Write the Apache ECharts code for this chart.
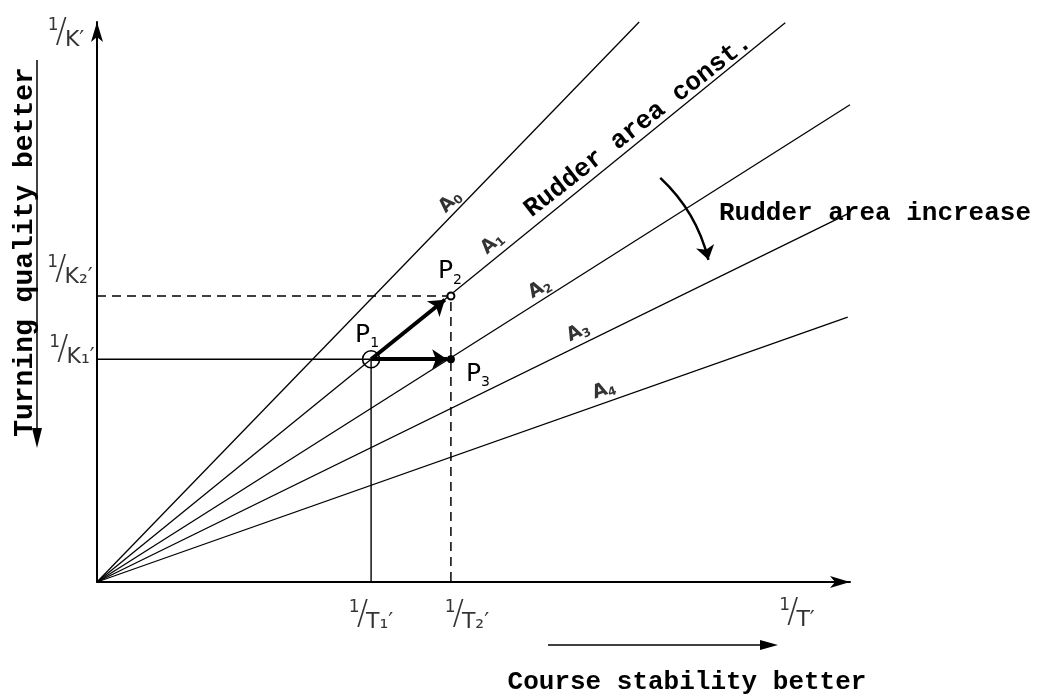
<!DOCTYPE html>
<html><head><meta charset="utf-8">
<script src="https://cdn.jsdelivr.net/npm/echarts@6/dist/echarts.min.js"></script>
<style>html,body{margin:0;padding:0;background:#fff}#c{width:1037px;height:697px}</style>
</head><body><div id="c"></div>
<script>
// ---- data ----
const lineNames = ['A₀', 'A₁', 'A₂', 'A₃', 'A₄'];
const lineEndX = [7.20, 9.14, 10.0, 9.97, 9.97];
const lineEndY = [7.44, 7.43, 6.34, 4.89, 3.52];
const lineLabelX = [4.69, 5.25, 5.88, 6.39, 6.73];
const lineLabelY = [5.05, 4.50, 3.90, 3.32, 2.55];
const pointNames = ['P₁', 'P₂', 'P₃'];
const pointX = [3.64, 4.70, 4.70];
const pointY = [2.96, 3.80, 2.96];
const xTickValues = [3.64, 4.70];
const xTickLabels = ['T₁′', 'T₂′'];
const yTickValues = [2.96, 3.80];
const yTickLabels = ['K₁′', 'K₂′'];
const xAxisEndLabel = 'T′';
const yAxisEndLabel = 'K′';
const xAxisTitle = 'Course stability better';
const yAxisTitle = 'Turning quality better';
const noteConst = 'Rudder area const.';
const noteIncrease = 'Rudder area increase';
const increaseArrowFrom = [7.48, 5.37];
const increaseArrowTo = [8.12, 4.28];

const X_MAX = 10, Y_MAX = 7.44;
const mono = '"Courier New","Liberation Mono",monospace';
const hand = '"DejaVu Sans","Liberation Sans",sans-serif';
const subMap = {'₀': '0', '₁': '1', '₂': '2', '₃': '3', '₄': '4'};

const fracRich = {
  n: {fontSize: 17, fontFamily: hand, verticalAlign: 'top', lineHeight: 36, color: '#000', padding: [2, 0, 0, 0]},
  s: {fontSize: 34, fontFamily: hand, fontWeight: 200, lineHeight: 36, color: '#000', padding: [0, -2, 0, -3]},
  d: {fontSize: 22, fontFamily: hand, verticalAlign: 'bottom', lineHeight: 36, color: '#000'}
};
function frac(den) { return '{n|1}{s|/}{d|' + den + '}'; }
// split "X₁" into main letter and subscript digit for rich text
function subText(s) { return '{m|' + s[0] + '}{b|' + (subMap[s[1]] || s.slice(1)) + '}'; }

const series = [];
// rudder lines A0..A4
lineNames.forEach((nm, i) => {
  series.push({
    type: 'line', name: nm, data: [[0, 0], [lineEndX[i], lineEndY[i]]],
    symbol: 'none', clip: false, silent: true,
    lineStyle: {color: '#000', width: 1.3}
  });
});
// guide lines
series.push({
  type: 'line', data: [[0, pointY[0]], [pointX[0], pointY[0]], [pointX[0], 0]],
  symbol: 'none', silent: true, lineStyle: {color: '#000', width: 1.4}
});
series.push({
  type: 'line', data: [[0, pointY[1]], [pointX[1], pointY[1]], [pointX[1], 0]],
  symbol: 'none', silent: true, lineStyle: {color: '#000', width: 1.5, type: [9, 6]}
});
// thick arrows P1 -> P2, P1 -> P3
series.push({
  type: 'lines', coordinateSystem: 'cartesian2d', silent: true,
  symbol: ['none', 'arrow'], symbolSize: 15,
  lineStyle: {color: '#000', width: 4, opacity: 1},
  data: [
    {coords: [[pointX[0], pointY[0]], [pointX[1] - 0.08, pointY[1] - 0.05]]},
    {coords: [[pointX[0], pointY[0]], [pointX[2] - 0.05, pointY[2]]]}
  ]
});
// curved arrow "rudder area increase"
series.push({
  type: 'lines', coordinateSystem: 'cartesian2d', silent: true,
  symbol: ['none', 'arrow'], symbolSize: 14,
  lineStyle: {color: '#000', width: 2.5, opacity: 1, curveness: 0.15},
  data: [{coords: [increaseArrowFrom, increaseArrowTo]}]
});
// points
const pRich = {
  m: {fontSize: 25, fontFamily: hand, color: '#000', lineHeight: 30, verticalAlign: 'middle'},
  b: {fontSize: 14, fontFamily: hand, color: '#000', lineHeight: 30, verticalAlign: 'bottom', padding: [0, 0, 0, 0]}
};
series.push({
  type: 'scatter', silent: true, clip: false, z: 5,
  data: [
    {value: [pointX[0], pointY[0]], symbolSize: 17, itemStyle: {color: 'rgba(255,255,255,0)', borderColor: '#000', borderWidth: 1.6, opacity: 1},
     label: {show: true, formatter: subText(pointNames[0]), offset: [-4, -24]}},
    {value: [pointX[1], pointY[1]], symbolSize: 7, itemStyle: {color: '#fff', borderColor: '#000', borderWidth: 2, opacity: 1},
     label: {show: true, formatter: subText(pointNames[1]), offset: [-1, -24]}},
    {value: [pointX[2], pointY[2]], symbolSize: 8, itemStyle: {color: '#000', opacity: 1},
     label: {show: true, formatter: subText(pointNames[2]), offset: [27, 15]}}
  ],
  label: {position: 'inside', rich: pRich}
});
// line labels A0..A4
const angles = [46, 42, 30, 26, 20];
const aRich = {
  m: {fontSize: 19, fontFamily: hand, fontWeight: 'bold', color: '#000', lineHeight: 22, verticalAlign: 'middle'},
  b: {fontSize: 12, fontFamily: hand, fontWeight: 'bold', color: '#000', lineHeight: 22, verticalAlign: 'bottom'}
};
series.push({
  type: 'scatter', silent: true, clip: false, symbolSize: 0,
  data: lineNames.map((nm, i) => ({
    value: [lineLabelX[i], lineLabelY[i]],
    label: {show: true, formatter: subText(nm), rotate: angles[i]}
  })),
  label: {position: 'inside', rich: aRich}
});
// tick labels (fractions)
const tickData = [];
xTickValues.forEach((v, i) => tickData.push({value: [v, 0], label: {show: true, formatter: frac(xTickLabels[i]), offset: [i === 0 ? 0 : 16, 33]}}));
tickData.push({value: [X_MAX, 0], label: {show: true, formatter: frac(xAxisEndLabel), offset: [-53, 31]}});
yTickValues.forEach((v, i) => tickData.push({value: [0, v], label: {show: true, formatter: frac(yTickLabels[i]), offset: [i === 0 ? -25 : -27, i === 0 ? -9 : -26]}}));
tickData.push({value: [0, Y_MAX], label: {show: true, formatter: frac(yAxisEndLabel), offset: [-31, 11]}});
series.push({
  type: 'scatter', silent: true, clip: false, symbolSize: 0, data: tickData,
  label: {position: 'inside', rich: fracRich}
});

const chart = echarts.init(document.getElementById('c'), null, {renderer: 'canvas'});
chart.setOption({
  animation: false,
  backgroundColor: '#fff',
  grid: {left: 97, right: 187, top: 22, bottom: 115, containLabel: false},
  xAxis: {
    type: 'value', min: 0, max: X_MAX,
    axisLine: {show: true, onZero: false, symbol: ['none', 'arrow'], symbolSize: [9, 20], lineStyle: {color: '#000', width: 2}},
    axisTick: {show: false}, axisLabel: {show: false}, splitLine: {show: false}
  },
  yAxis: {
    type: 'value', min: 0, max: Y_MAX,
    axisLine: {show: true, onZero: false, symbol: ['none', 'arrow'], symbolSize: [9, 20], lineStyle: {color: '#000', width: 2}},
    axisTick: {show: false}, axisLabel: {show: false}, splitLine: {show: false}
  },
  graphic: [
    {type: 'text', x: 25, y: 252, rotation: Math.PI / 2,
     style: {text: yAxisTitle, font: 'bold 28px ' + mono, fill: '#000', textAlign: 'center', textVerticalAlign: 'middle'}},
    {type: 'line', shape: {x1: 37, y1: 60, x2: 37, y2: 432}, style: {stroke: '#000', lineWidth: 1.5}},
    {type: 'polygon', shape: {points: [[32, 428], [42, 428], [37, 448]]}, style: {fill: '#000'}},
    {type: 'text', x: 687, y: 682,
     style: {text: xAxisTitle, font: 'bold 26px ' + mono, fill: '#000', textAlign: 'center', textVerticalAlign: 'middle'}},
    {type: 'line', shape: {x1: 548, y1: 645, x2: 765, y2: 645}, style: {stroke: '#000', lineWidth: 1.5}},
    {type: 'polygon', shape: {points: [[760, 640], [760, 650], [778, 645]]}, style: {fill: '#000'}},
    {type: 'text', x: 638, y: 126, rotation: 38 * Math.PI / 180,
     style: {text: noteConst, font: 'bold 26px ' + mono, fill: '#000', textAlign: 'center', textVerticalAlign: 'middle'}},
    {type: 'text', x: 875, y: 213,
     style: {text: noteIncrease, font: 'bold 26px ' + mono, fill: '#000', textAlign: 'center', textVerticalAlign: 'middle'}}
  ],
  series: series
});
</script></body></html>
